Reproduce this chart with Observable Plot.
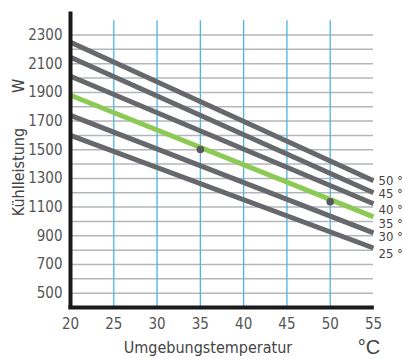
<!DOCTYPE html>
<html><head><meta charset="utf-8">
<script src="https://cdn.jsdelivr.net/npm/d3@7"></script>
<script src="https://cdn.jsdelivr.net/npm/@observablehq/plot@0.6"></script>
<style>
body{margin:0;background:#fff;}
</style></head><body><div id="chart"></div>
<script>
const series = ["50 °C","45 °C","40 °C","35 °C","30 °C","25 °C"];
const xStart = 20, xEnd = 55;
const startValues = [2250, 2145, 2012, 1880, 1740, 1600];
const endValues = [1284, 1200, 1123, 1032, 920, 815];
const labelValues = [1284, 1193, 1081, 983, 892, 773];
const markerX = [35, 50];
const markerY = [1502, 1137];
const xTicks = [20,25,30,35,40,45,50,55];
const yTicks = [500,700,900,1100,1300,1500,1700,1900,2100,2300];
const yGrid = d3.range(500, 2301, 100);
const xGrid = [25,30,35,40,45,50];
const xTitle = "Umgebungstemperatur", xUnit = "°C", yTitle = "Kühlleistung", yUnit = "W";

const lines = [];
series.forEach((s,i)=>{
  lines.push({s, x:xStart, y:startValues[i]});
  lines.push({s, x:xEnd, y:endValues[i]});
});
const labels = series.map((s,i)=>({s, x:xEnd, y:labelValues[i]}));
const markers = markerX.map((x,i)=>({x, y:markerY[i]}));
const green = "#8dca55", grey = "#67686b";
const font = "'Liberation Sans Narrow','DejaVu Sans Condensed','DejaVu Sans',sans-serif";

const chart = Plot.plot({
  width:403, height:359,
  marginLeft:70, marginRight:30, marginTop:13, marginBottom:52,
  x:{domain:[20,55]},
  y:{domain:[400,2450]},
  style:{fontFamily:font},
  marks:[
    Plot.ruleY(yGrid,{x1:20,x2:55,stroke:"#b3b7ba",strokeWidth:1.5}),
    Plot.ruleX(xGrid,{y1:400,y2:2400,stroke:"#4fb3e3",strokeWidth:1.3}),
    Plot.line(lines,{x:"x",y:"y",z:"s",stroke:d=>d.s==="35 °C"?green:grey,strokeWidth:5,strokeLinecap:"butt"}),
    Plot.dot(markers,{x:"x",y:"y",r:3.8,fill:"#58595b"}),
    Plot.ruleX([20],{y1:400,y2:2460,stroke:"#1a1a1a",strokeWidth:4}),
    Plot.ruleY([400],{x1:19.8,x2:55.1,stroke:"#1a1a1a",strokeWidth:4}),
    Plot.axisX(xTicks,{tickSize:0,tickPadding:11,fontSize:15,fill:"#555",label:null,tickFormat:d=>String(d)}),
    Plot.axisY(yTicks,{tickSize:0,tickPadding:8,fontSize:15,fill:"#555",label:null,tickFormat:d=>String(d)}),
    Plot.text(labels,{x:"x",y:"y",text:"s",textAnchor:"start",dx:5,fontSize:13,fill:"#444",clip:false})
  ]
});
const svg = d3.select(chart);
const addText = (t, x, y, size, rot, fam) => svg.append("text")
  .attr("transform", `translate(${x},${y}) rotate(${rot})`)
  .attr("text-anchor","middle").attr("font-size",size).attr("fill","#444")
  .attr("font-family", fam || font).text(t);
addText(xTitle, 208, 353, 16, 0);
addText(xUnit, 369, 354, 20, 0, "'Liberation Sans',sans-serif");
addText(yUnit, 24, 86, 16, -90);
addText(yTitle, 24, 172, 16, -90);
document.getElementById("chart").append(chart);
</script></body></html>
